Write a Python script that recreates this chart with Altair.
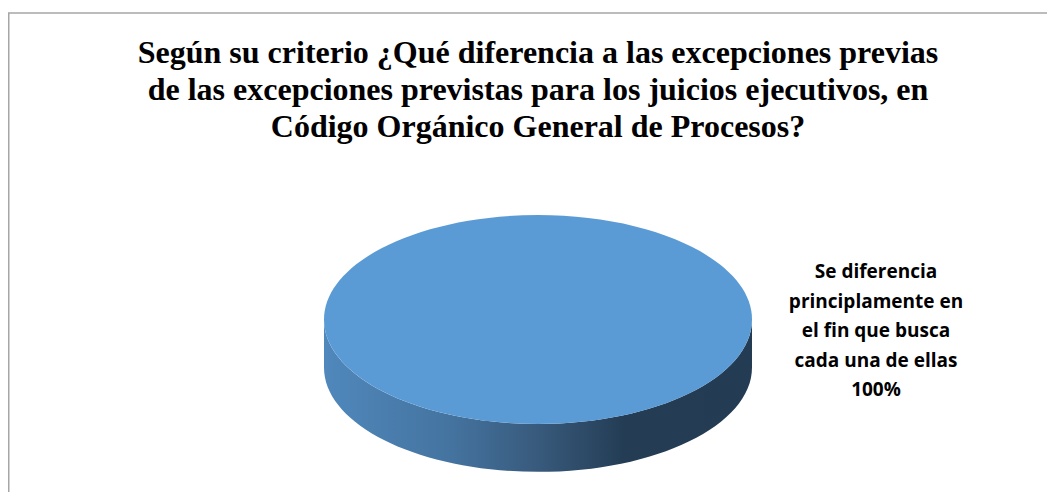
import altair as alt
import pandas as pd

# ---- data ----
categories = ["Se diferencia\nprinciplamente en\nel fin que busca\ncada una de ellas"]
values = [100]
title_lines = [
    "Según su criterio ¿Qué diferencia a las excepciones previas",
    "de las excepciones previstas para los juicios ejecutivos, en",
    "Código Orgánico General de Procesos?",
]

df = pd.DataFrame({"categoria": categories, "valor": values})
title_df = pd.DataFrame({"t": ["\n".join(title_lines)]})

W, H = 1039, 484
CX, CY = 530, 311.5
SIZE = 428 ** 2

RY = 0.488
D = 0.224
top_path = f"M-1,0 A1,{RY} 0 1,1 1,0 A1,{RY} 0 1,1 -1,0 Z"
side_path = (f"M-1,0 L-1,{D} A1,{RY} 0 0,0 1,{D} L1,0 "
             f"A1,{RY} 0 0,1 -1,0 Z")

side_grad = alt.Gradient(
    gradient="linear",
    x1=0, x2=1, y1=0, y2=0,
    stops=[
        alt.GradientStop(offset=0, color="#5088bc"),
        alt.GradientStop(offset=0.3, color="#44739f"),
        alt.GradientStop(offset=0.5, color="#385a7c"),
        alt.GradientStop(offset=0.7, color="#243d55"),
        alt.GradientStop(offset=1, color="#233c54"),
    ],
)

base = alt.Chart(df)

side = base.mark_point(
    shape=side_path, filled=True, fill=side_grad, strokeWidth=0, opacity=1
).encode(x=alt.value(CX), y=alt.value(CY), size=alt.value(SIZE))

top = base.mark_point(
    shape=top_path, filled=True, fill="#5b9bd5", strokeWidth=0, opacity=1
).encode(x=alt.value(CX), y=alt.value(CY), size=alt.value(SIZE))

label = base.transform_joinaggregate(
    total="sum(valor)"
).transform_calculate(
    etiqueta="datum.categoria + '\\n' + format(datum.valor / datum.total, '.0%')"
).mark_text(
    font="Open Sans", fontWeight="bold", fontSize=19, color="#000000",
    lineBreak="\n", lineHeight=29.5, align="center", baseline="middle"
).encode(x=alt.value(868), y=alt.value(264), text="etiqueta:N")

title = alt.Chart(title_df).mark_text(
    font="Liberation Serif", fontWeight="bold", fontSize=32, color="#000000",
    lineBreak="\n", lineHeight=37, align="center", baseline="middle"
).encode(x=alt.value(530), y=alt.value(45), text="t:N")

border_top = alt.Chart(df).mark_rule(color="#a6a6a6", strokeWidth=1.5).encode(
    x=alt.value(0), x2=alt.value(W), y=alt.value(5)
)
border_left = alt.Chart(df).mark_rule(color="#a6a6a6", strokeWidth=1.5).encode(
    x=alt.value(0.75), y=alt.value(5), y2=alt.value(H)
)

chart = alt.layer(border_top, border_left, side, top, label, title).properties(
    width=W, height=H, autosize="none", padding=0
).configure_view(strokeWidth=0)

chart.save("out.html", embed_options={"renderer": "svg", "actions": False})
